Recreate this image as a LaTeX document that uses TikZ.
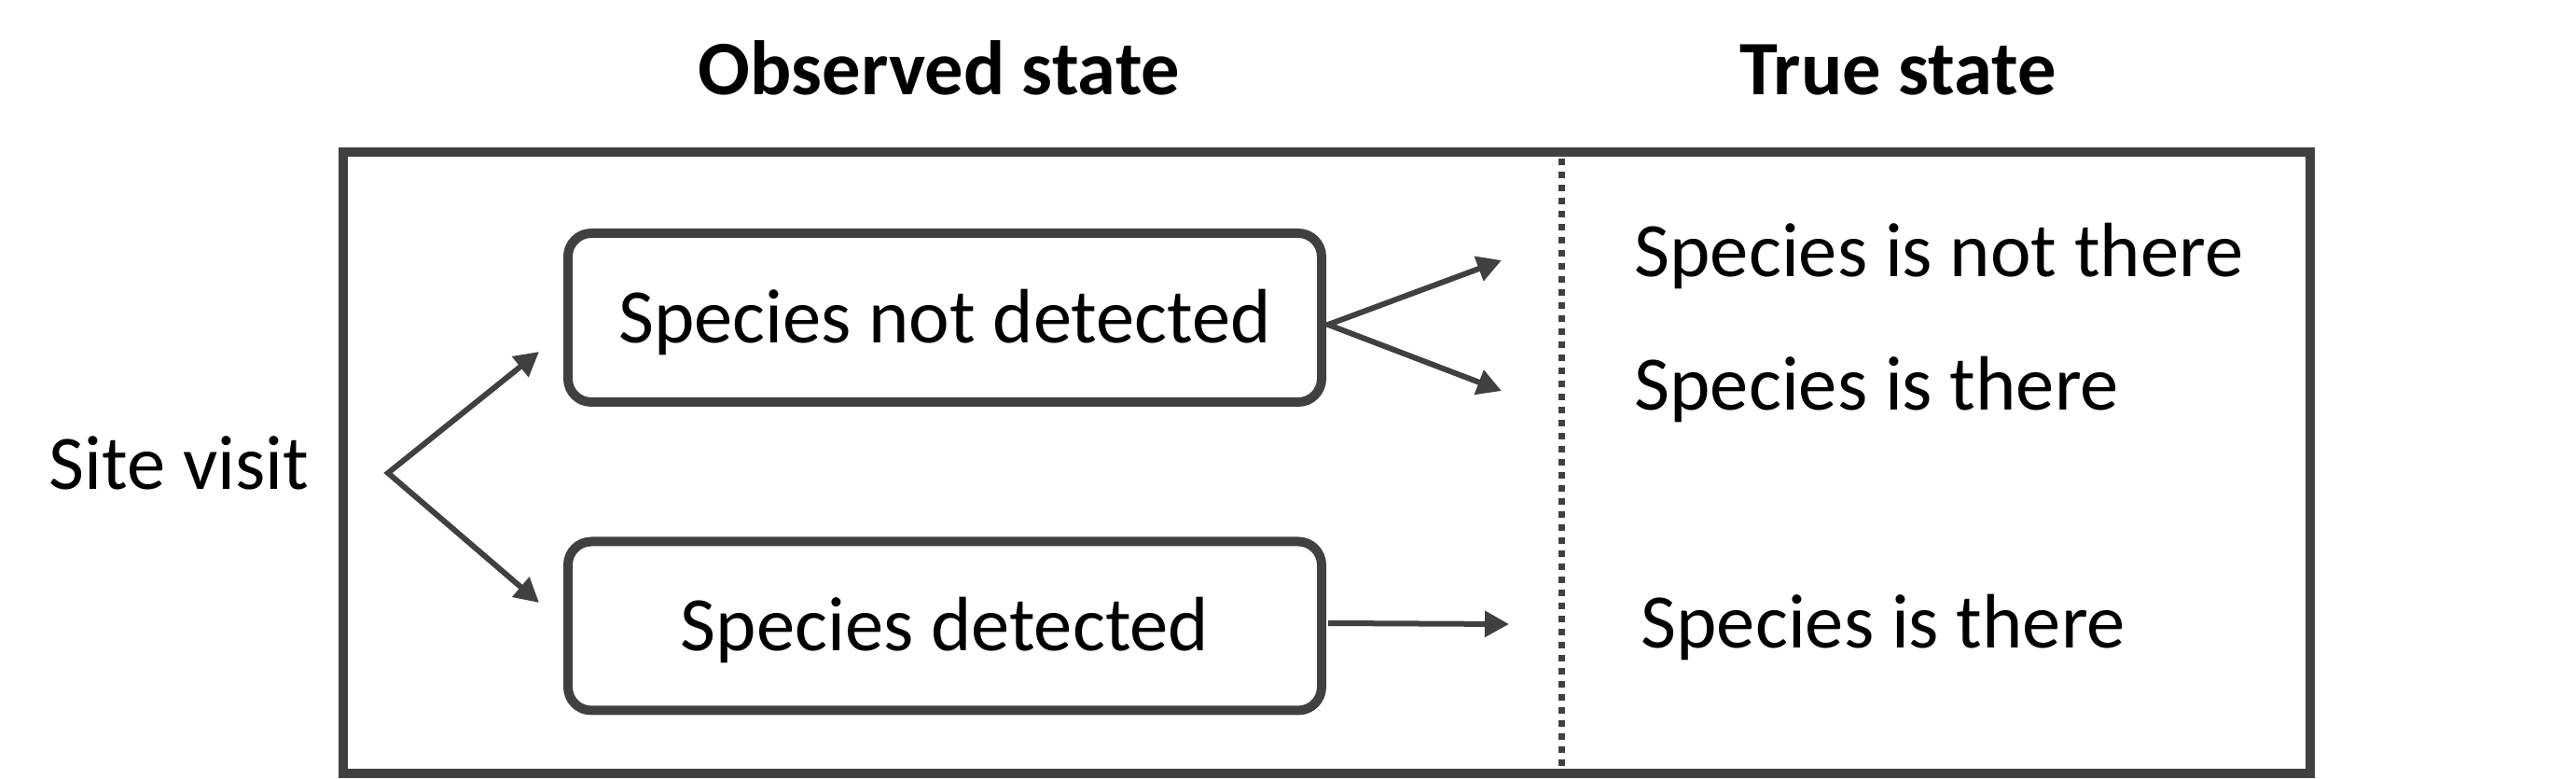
\documentclass[tikz,border=0pt]{standalone}
\usepackage{fontspec}
\setmainfont{Carlito}
\usetikzlibrary{arrows.meta}
\definecolor{darkline}{HTML}{404040}

\begin{document}
\begin{tikzpicture}[x=1cm, y=1cm, font=\fontsize{23.5}{28}\selectfont,
    statebox/.style={draw=darkline, line width=1mm, rounded corners=2.5mm, minimum width=8.08cm, minimum height=1.81cm, inner sep=0pt, text height=15.1pt, text depth=0pt},
    label/.style={inner sep=0pt, anchor=base west},
    heading/.style={inner sep=0pt, anchor=base, font=\fontsize{23.5}{28}\selectfont\bfseries},
    arr/.style={draw=darkline, line width=0.6mm, -{Triangle[length=2.6mm, width=2.7mm]}},
    twoarr/.style={arr, line join=miter, {Triangle[length=2.6mm, width=2.7mm]}-{Triangle[length=2.6mm, width=2.7mm]}}]
  \useasboundingbox (0,0) rectangle (27.62,8.34);
  % headings
  \node[heading] (obs) at (10.07,7.32) {Observed state};
  \node[heading] (true) at (20.35,7.32) {True state};
  % frame and divider
  \draw[darkline, line width=1mm] (3.68,0.05) rectangle (24.77,6.71);
  \draw[darkline, line width=0.7mm, dash pattern=on 0.7mm off 0.7mm] (16.74,6.64) -- (16.74,0.10);
  % observed side
  \node[label] (site) at (0.52,3.09) {Site visit};
  \node[statebox] (nd) at (10.13,4.935) {Species not detected};
  \node[statebox] (det) at (10.13,1.63) {Species detected};
  % true side
  \node[label] (notthere) at (17.52,5.37) {Species is not there};
  \node[label] (there1) at (17.52,3.94) {Species is there};
  \node[label] (there2) at (17.59,1.39) {Species is there};
  % arrows
  \coordinate (fork) at (4.16,3.27);
  \coordinate (ndin) at (5.78,4.57);
  \coordinate (detin) at (5.78,1.88);
  \coordinate (ndout) at (14.24,4.86);
  \coordinate (nttip) at (16.10,5.55);
  \coordinate (t1tip) at (16.10,4.15);
  \coordinate (detout) at (14.24,1.66);
  \coordinate (t2tip) at (16.18,1.65);
  \draw[twoarr] (ndin) -- (fork) -- (detin);
  \draw[twoarr] (nttip) -- (ndout) -- (t1tip);
  \draw[arr] (detout) -- (t2tip);
\end{tikzpicture}
\end{document}
